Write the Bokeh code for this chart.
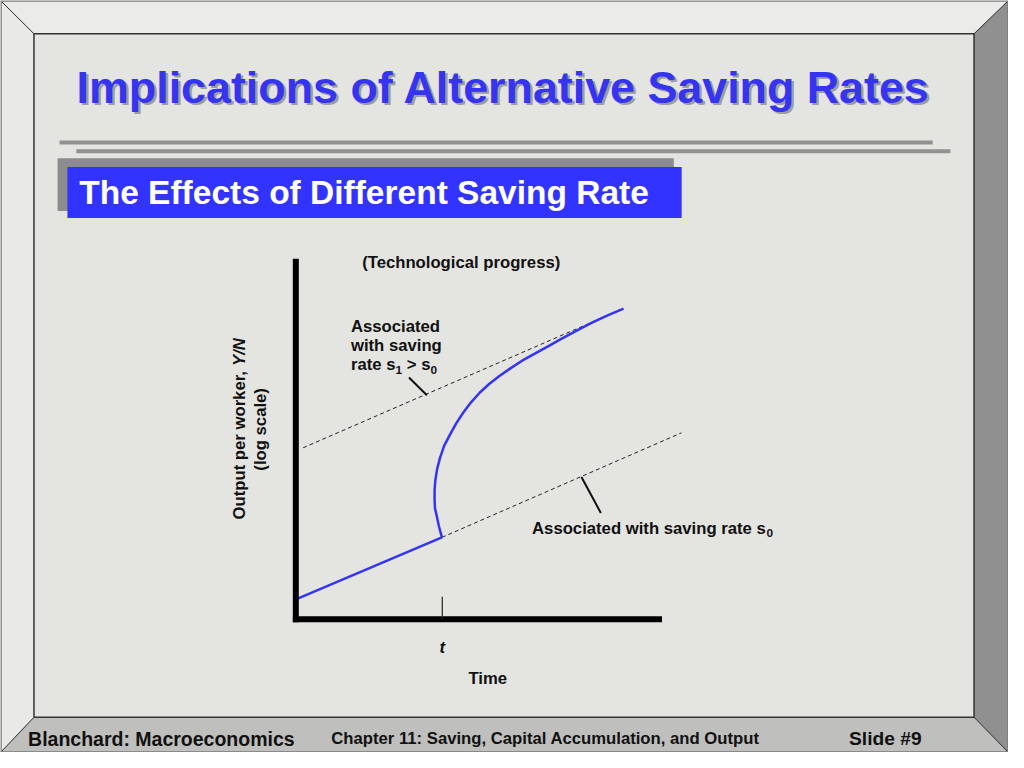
import math
from bokeh.plotting import figure
from bokeh.models import Range1d, Label
from bokeh.embed import file_html
from bokeh.resources import INLINE

# ---------------- data (chart units: time, log output per worker) ----------------
t_pre = [0.05, 3.99]
ln_pre = [0.57, 2.25]
t_post = [3.99, 3.91, 3.85, 3.80, 3.79, 3.79, 3.81, 3.86, 3.94, 4.05, 4.21, 4.38, 4.57,
          4.78, 5.02, 5.28, 5.56, 5.86, 6.18, 6.54, 6.90, 7.20, 7.53, 8.06, 8.50, 8.95]
ln_post = [2.25, 2.55, 2.83, 3.05, 3.28, 3.55, 3.82, 4.13, 4.44, 4.76, 5.07, 5.38, 5.67,
           5.95, 6.22, 6.46, 6.68, 6.89, 7.10, 7.30, 7.50, 7.67, 7.85, 8.13, 8.34, 8.53]
t_s0 = [3.99, 10.53]
ln_s0 = [2.25, 5.12]
t_s1 = [0.20, 8.96]
ln_s1 = [4.71, 8.54]
t_shock = 4.0
pointer_s1_t = [3.09, 3.58]
pointer_s1_ln = [6.64, 6.15]
pointer_s0_t = [7.80, 8.33]
pointer_s0_ln = [3.91, 2.92]
axis_t_max = 10.0
axis_ln_max = 9.9

# ---------------- texts ----------------
title_text = "Implications of Alternative Saving Rates"
subtitle_text = "The Effects of Different Saving Rate"
tech_text = "(Technological progress)"
s1_line1 = "Associated"
s1_line2 = "with saving"
s1_parts = ["rate s", "1", "> s", "0"]          # base, subscript, base, subscript
s0_parts = ["Associated with saving rate s", "0"]
ylab_1 = "Output per worker,"
ylab_2 = "Y/N"
ylab_3 = "(log scale)"
tick_text = "t"
xlab_text = "Time"
footer_left = "Blanchard: Macroeconomics"
footer_mid = "Chapter 11: Saving, Capital Accumulation, and Output"
footer_right = "Slide #9"

# ---------------- layout ----------------
W_SLIDE, H_SLIDE = 1024, 768
FIG_W, FIG_H = 1008, 752
SC = FIG_W / W_SLIDE
X0, Y0, PX = 300.0, 632.0, 37.2   # slide position of chart origin, px per unit

FONT = "Liberation Sans"
BLUE = "#3434f2"
F_CH = 17      # chart text size (slide px)
F_SUB = 12     # subscript size


def fs(v):
    return f"{v * SC:.1f}px"


p = figure(width=FIG_W, height=FIG_H, output_backend="svg", toolbar_location=None,
           x_range=Range1d(0, W_SLIDE), y_range=Range1d(H_SLIDE, 0),
           min_border=0, min_border_left=0, min_border_right=0,
           min_border_top=0, min_border_bottom=0)
p.xaxis.visible = False
p.yaxis.visible = False
p.grid.visible = False
p.outline_line_color = None
p.background_fill_color = "#e4e4e1"
p.border_fill_color = "#e4e4e1"

p.extra_x_ranges = {"t": Range1d((0 - X0) / PX, (W_SLIDE - X0) / PX)}
p.extra_y_ranges = {"ln": Range1d((Y0 - H_SLIDE) / PX, (Y0 - 0) / PX)}

# ---------------- slide frame ----------------
IL, IT, IR, IB = 34, 34, 989, 732
p.patch([0, W_SLIDE, IR, IL], [0, 0, IT, IT], fill_color="#ebebe9", line_color=None)
p.patch([0, IL, IL, 0], [0, IT, IB, H_SLIDE], fill_color="#e9e9e7", line_color=None)
p.patch([W_SLIDE, W_SLIDE, IR, IR], [0, H_SLIDE, IB, IT], fill_color="#909090", line_color=None)
p.patch([0, IL, IR, W_SLIDE], [H_SLIDE, IB, IB, H_SLIDE], fill_color="#bfbfbd", line_color=None)
p.multi_line([[0, IL], [W_SLIDE, IR], [IR, W_SLIDE], [IL, 0]],
             [[0, IT], [0, IT], [IB, H_SLIDE], [IB, H_SLIDE]],
             line_color="#2a2a2a", line_width=1)
p.multi_line([[IL, IR, IR, IL, IL]], [[IT, IT, IB, IB, IT]], line_color="#333333", line_width=1.5)
p.multi_line([[0.5, W_SLIDE - 0.5, W_SLIDE - 0.5, 0.5, 0.5]],
             [[0.5, 0.5, H_SLIDE - 0.5, H_SLIDE - 0.5, 0.5]], line_color="#7a7a7a", line_width=1.5)

# ---------------- title area ----------------
p.add_layout(Label(x=513.5, y=90.5, text=title_text, text_font=FONT, text_font_style="bold",
                   text_font_size=fs(45.5), text_color="#8a8a8a", text_alpha=0.8,
                   text_align="center", text_baseline="middle"))
p.add_layout(Label(x=511, y=88, text=title_text, text_font=FONT, text_font_style="bold",
                   text_font_size=fs(45.5), text_color=BLUE,
                   text_align="center", text_baseline="middle"))

p.line([60, 947], [145, 145], line_color="#929292", line_width=4)
p.line([77, 965], [154, 154], line_color="#929292", line_width=4)

p.quad(left=58, right=684, top=161, bottom=215, fill_color="#8c8c8c", line_color=None)
p.quad(left=68, right=692, top=170, bottom=222, fill_color="#3333ff", line_color=None)
p.add_layout(Label(x=80, y=196, text=subtitle_text, text_font=FONT, text_font_style="bold",
                   text_font_size=fs(34), text_color="white",
                   text_align="left", text_baseline="middle"))

# ---------------- chart ----------------
R = dict(x_range_name="t", y_range_name="ln")
p.line(t_s1, ln_s1, line_color="#222222", line_width=1, line_dash="4 3", **R)
p.line(t_s0, ln_s0, line_color="#222222", line_width=1, line_dash="4 3", **R)
p.line(t_pre, ln_pre, line_color=BLUE, line_width=2.5, **R)
p.line(t_post, ln_post, line_color=BLUE, line_width=2.5, line_join="round", **R)
p.line(pointer_s1_t, pointer_s1_ln, line_color="#111111", line_width=2, **R)
p.line(pointer_s0_t, pointer_s0_ln, line_color="#111111", line_width=2, **R)

p.line([0, 0], [-0.08, axis_ln_max], line_color="black", line_width=6, line_cap="butt", **R)
p.line([-0.08, axis_t_max], [0, 0], line_color="black", line_width=6, line_cap="butt", **R)
p.line([t_shock, t_shock], [0, 0.62], line_color="#222222", line_width=1.2, **R)

TXT = dict(text_font=FONT, text_font_style="bold", text_color="#111111")


def lab(x, y, text, size=F_CH, align="left", **kw):
    opts = dict(TXT)
    opts.update(kw)
    p.add_layout(Label(x=x, y=y, text=text, text_font_size=fs(size),
                       text_align=align, text_baseline="middle", **opts))


lab(468, 268, tech_text, align="center")
lab(356, 333, s1_line1)
lab(356, 352.5, s1_line2)
# "rate s1 > s0" with real subscripts (Arial/Liberation advance widths)
y3 = 372
x = 356
lab(x, y3, s1_parts[0])
x += 2.668 * F_CH
lab(x, y3 + 5, s1_parts[1], size=F_SUB)
x += 0.556 * F_SUB + 0.278 * F_CH
lab(x, y3, s1_parts[2])
x += (0.584 + 0.278 + 0.556) * F_CH
lab(x, y3 + 5, s1_parts[3], size=F_SUB)

lab(540, 539, s0_parts[0])
lab(540 + 14.005 * F_CH, 544, s0_parts[1], size=F_SUB)

# rotated y-axis title: "Output per worker, Y/N" (Y/N italic) + "(log scale)"
y_start = 530
w_line1 = 8.946 * F_CH + 0.278 * F_CH    # text + one space
p.add_layout(Label(x=243, y=y_start, text=ylab_1, text_font_size=fs(F_CH), angle=math.pi / 2,
                   text_align="left", text_baseline="middle", **TXT))
p.add_layout(Label(x=243, y=y_start - w_line1, text=ylab_2, text_font=FONT,
                   text_font_style="bold italic", text_color="#111111",
                   text_font_size=fs(F_CH), angle=math.pi / 2,
                   text_align="left", text_baseline="middle"))
p.add_layout(Label(x=264, y=438, text=ylab_3, text_font_size=fs(F_CH), angle=math.pi / 2,
                   text_align="center", text_baseline="middle", **TXT))

p.add_layout(Label(x=t_shock, y=(Y0 - 661) / PX, x_range_name="t", y_range_name="ln",
                   text=tick_text, text_font=FONT, text_font_style="bold italic",
                   text_color="#111111", text_font_size=fs(F_CH),
                   text_align="center", text_baseline="middle"))
lab(495, 692, xlab_text, align="center")

# ---------------- footer ----------------
lab(28, 754, footer_left, size=19.8)
lab(336, 754, footer_mid, size=17)
lab(862, 754, footer_right, size=19.5)

open("out.html", "w").write(file_html(p, INLINE))
